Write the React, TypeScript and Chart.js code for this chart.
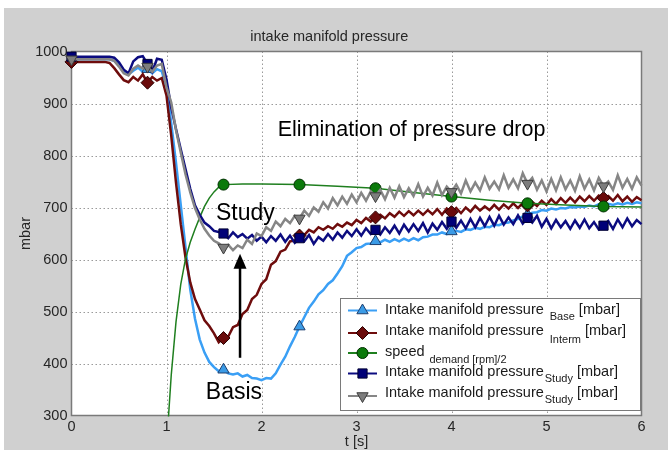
import React, { useEffect, useRef } from 'react';
import { Chart, registerables } from 'chart.js';

Chart.register(...registerables);

// ---------------- data ----------------
const times = [
  0, 0.05, 0.1, 0.15, 0.2, 0.25, 0.3, 0.35, 0.4, 0.45,
  0.5, 0.55, 0.6, 0.65, 0.7, 0.75, 0.8, 0.85, 0.9, 0.95,
  1, 1.05, 1.1, 1.15, 1.2, 1.25, 1.3, 1.35, 1.4, 1.45,
  1.5, 1.55, 1.6, 1.65, 1.7, 1.75, 1.8, 1.85, 1.9, 1.95,
  2, 2.05, 2.1, 2.15, 2.2, 2.25, 2.3, 2.35, 2.4, 2.45,
  2.5, 2.55, 2.6, 2.65, 2.7, 2.75, 2.8, 2.85, 2.9, 2.95,
  3, 3.05, 3.1, 3.15, 3.2, 3.25, 3.3, 3.35, 3.4, 3.45,
  3.5, 3.55, 3.6, 3.65, 3.7, 3.75, 3.8, 3.85, 3.9, 3.95,
  4, 4.05, 4.1, 4.15, 4.2, 4.25, 4.3, 4.35, 4.4, 4.45,
  4.5, 4.55, 4.6, 4.65, 4.7, 4.75, 4.8, 4.85, 4.9, 4.95,
  5, 5.05, 5.1, 5.15, 5.2, 5.25, 5.3, 5.35, 5.4, 5.45,
  5.5, 5.55, 5.6, 5.65, 5.7, 5.75, 5.8, 5.85, 5.9, 5.95,
  6,
];

const pressureBase = [
  985, 985, 985, 985, 985, 985, 985, 985, 985, 982,
  974, 962, 956, 963, 969, 961, 966, 958, 966, 962,
  930, 862, 786, 705, 624, 542, 486, 446, 421, 403,
  393, 385, 388, 381, 379, 381, 375, 378, 372, 371,
  368, 372, 371, 381, 398, 413, 433, 451, 471, 489,
  507, 519, 533, 541, 553, 560, 573, 587, 607, 614,
  622, 624, 630, 631, 635, 633, 638, 634, 639, 635,
  640, 636, 641, 637, 643, 644, 648, 648, 652, 649,
  654, 655, 653, 658, 657, 661, 659, 663, 662, 667,
  666, 670, 671, 675, 678, 683, 686, 690, 691, 695,
  694, 698, 696, 699, 698, 701, 700, 702, 701, 704,
  702, 706, 704, 707, 705, 708, 706, 709, 707, 710,
  708,
];

const pressureInterm = [
  980, 980, 980, 980, 980, 980, 980, 980, 978, 968,
  956, 945, 941, 951, 944, 956, 940, 951, 944, 949,
  915, 838, 748, 668, 604, 556, 524, 504, 483, 472,
  458, 441, 449, 452, 470, 474, 495, 503, 524, 532,
  553, 562, 590, 597, 615, 619, 635, 636, 646, 647,
  657, 652, 662, 657, 664, 659, 668, 663, 671, 666,
  676, 670, 680, 673, 681, 686, 679, 689, 682, 692,
  684, 693, 685, 694, 686, 695, 687, 697, 686, 698,
  691, 699, 689, 700, 692, 703, 694, 702, 695, 705,
  696, 706, 698, 708, 699, 709, 704, 711, 703, 713,
  705, 716, 707, 718, 709, 719, 710, 721, 712, 722,
  713, 723, 718, 722, 713, 724, 712, 721, 711, 720,
  714,
];

const speedTimes = [1, 1.05, 1.1, 1.15, 1.2, 1.25, 1.3, 1.35, 1.4, 1.45, 1.5, 1.55, 1.6, 1.8, 2, 2.4, 2.8, 3.2, 3.6, 4, 4.4, 4.8, 5.2, 5.6, 6];
const speedDemand = [240, 378, 480, 552, 601, 633, 658, 681, 702, 718, 730, 739, 744, 745, 745, 744, 741, 737, 729, 721, 714, 708, 705, 702, 701];

const pressureStudyA = [
  990, 990, 990, 990, 990, 990, 990, 990, 990, 988,
  979, 965, 958, 981, 989, 991, 976, 961, 986, 984,
  946, 892, 851, 812, 774, 736, 704, 686, 671, 664,
  655, 653, 650, 641, 652, 643, 649, 640, 647, 636,
  644, 633, 645, 636, 648, 634, 646, 632, 641, 635,
  647, 630, 643, 636, 649, 638, 652, 642, 655, 645,
  658, 646, 660, 649, 657, 648, 662, 651, 665, 650,
  667, 654, 668, 655, 670, 652, 669, 657, 672, 659,
  673, 661, 675, 660, 678, 662, 680, 664, 682, 665,
  684, 667, 681, 668, 685, 669, 680, 671, 684, 663,
  678, 660, 676, 662, 674, 659, 675, 661, 677, 660,
  672, 658, 665, 674, 659, 677, 662, 679, 664, 676,
  668,
];

const pressureStudyB = [
  985, 985, 985, 985, 985, 985, 985, 985, 985, 982,
  971, 958, 954, 967, 973, 967, 971, 961, 973, 976,
  931, 902, 849, 806, 764, 729, 699, 677, 659, 646,
  636, 631, 623, 628, 618, 627, 622, 638, 630, 650,
  645, 662, 655, 673, 664, 678, 670, 684, 679, 694,
  684, 700, 692, 710, 698, 718, 704, 721, 707, 725,
  710, 728, 713, 731, 722, 734, 716, 738, 719, 741,
  720, 737, 722, 745, 721, 738, 723, 748, 724, 740,
  730, 744, 727, 752, 731, 748, 733, 758, 736, 750,
  735, 762, 738, 754, 737, 766, 746, 757, 734, 752,
  731, 755, 733, 758, 735, 752, 732, 760, 736, 754,
  733, 757, 741, 750, 734, 762, 738, 755, 736, 758,
  742,
];

const markerTimes = [0, 0.8, 1.6, 2.4, 3.2, 4, 4.8, 5.6];
const xMin = 0, xMax = 6, xStep = 1;
const yMin = 300, yMax = 1000, yStep = 100;

const chartTitle = 'intake manifold pressure';
const xTitle = 't [s]';
const yTitle = 'mbar';

const legendMain = ['Intake manifold pressure', 'Intake manifold pressure', 'speed', 'Intake manifold pressure', 'Intake manifold pressure'];
const legendSub = ['Base', 'Interm', 'demand [rpm]/2', 'Study', 'Study'];
const legendTail = ['[mbar]', '[mbar]', '', '[mbar]', '[mbar]'];

const annotationMain = 'Elimination of pressure drop';
const annotationStudy = 'Study';
const annotationBasis = 'Basis';

// ---------------- styles ----------------
const FONT = '"Liberation Sans", Arial, Helvetica, sans-serif';
const TXT = '#262626';

type Sty = { line: string; fill: string; edge: string; shape: string; r: number; lw: number };
const styles: Sty[] = [
  { line: '#3a9ff5', fill: '#3b9be6', edge: '#1e3f6e', shape: 'triUp', r: 6.5, lw: 2.5 },
  { line: '#6e0c0c', fill: '#6a0b0b', edge: '#2a0000', shape: 'diamond', r: 6.5, lw: 2.5 },
  { line: '#1f7f1f', fill: '#0b7a0b', edge: '#003000', shape: 'circle', r: 5.5, lw: 1.5 },
  { line: '#0c0c80', fill: '#000078', edge: '#000033', shape: 'square', r: 6.5, lw: 2.5 },
  { line: '#868686', fill: '#7d7d7d', edge: '#3c3c3c', shape: 'triDown', r: 6.5, lw: 2.5 },
];

const chartStyle: Record<string, string> = {
  triUp: 'triangle', triDown: 'triangle', diamond: 'rectRot', circle: 'circle', square: 'rect',
};

function isMarker(x: number) {
  return markerTimes.some((m) => Math.abs(m - x) < 1e-6);
}

function drawShape(ctx: CanvasRenderingContext2D, shape: string, x: number, y: number, r: number, fill: string, edge: string) {
  ctx.beginPath();
  if (shape === 'triUp') {
    ctx.moveTo(x, y - r);
    ctx.lineTo(x + r * 0.866, y + r * 0.5);
    ctx.lineTo(x - r * 0.866, y + r * 0.5);
    ctx.closePath();
  } else if (shape === 'triDown') {
    ctx.moveTo(x, y + r);
    ctx.lineTo(x + r * 0.866, y - r * 0.5);
    ctx.lineTo(x - r * 0.866, y - r * 0.5);
    ctx.closePath();
  } else if (shape === 'diamond') {
    ctx.moveTo(x, y - r);
    ctx.lineTo(x + r, y);
    ctx.lineTo(x, y + r);
    ctx.lineTo(x - r, y);
    ctx.closePath();
  } else if (shape === 'circle') {
    ctx.arc(x, y, r, 0, Math.PI * 2);
  } else {
    const s = r * 0.7071;
    ctx.rect(x - s, y - s, 2 * s, 2 * s);
  }
  ctx.fillStyle = fill;
  ctx.fill();
  ctx.lineWidth = 1;
  ctx.strokeStyle = edge;
  ctx.stroke();
}

const decorPlugin = {
  id: 'decor',
  beforeDraw(chart: any) {
    const { ctx, width, height, chartArea: a } = chart;
    ctx.save();
    ctx.fillStyle = '#ffffff';
    ctx.fillRect(0, 0, width, height);
    ctx.fillStyle = '#d0d0d0';
    ctx.fillRect(4, 8, width - 8, height - 12);
    ctx.fillStyle = '#ffffff';
    ctx.fillRect(a.left, a.top, a.right - a.left, a.bottom - a.top);
    ctx.restore();
  },
  beforeDatasetsDraw(chart: any) {
    const { ctx, chartArea: a, scales } = chart;
    ctx.save();
    ctx.strokeStyle = '#9a9a9a';
    ctx.lineWidth = 1;
    ctx.setLineDash([1.5, 2.5]);
    for (const t of scales.x.ticks) {
      const px = Math.round(scales.x.getPixelForValue(t.value)) + 0.5;
      if (px <= a.left + 1 || px >= a.right - 1) continue;
      ctx.beginPath();
      ctx.moveTo(px, a.top);
      ctx.lineTo(px, a.bottom);
      ctx.stroke();
    }
    for (const t of scales.y.ticks) {
      const py = Math.round(scales.y.getPixelForValue(t.value)) + 0.5;
      if (py <= a.top + 1 || py >= a.bottom - 1) continue;
      ctx.beginPath();
      ctx.moveTo(a.left, py);
      ctx.lineTo(a.right, py);
      ctx.stroke();
    }
    ctx.setLineDash([]);
    ctx.strokeStyle = '#7a7a7a';
    ctx.lineWidth = 1.5;
    ctx.strokeRect(a.left, a.top, a.right - a.left, a.bottom - a.top);
    ctx.restore();
  },
  afterDatasetsDraw(chart: any) {
    const { ctx, scales } = chart;
    const X = (v: number) => scales.x.getPixelForValue(v);
    const Y = (v: number) => scales.y.getPixelForValue(v);
    ctx.save();
    // annotations
    ctx.fillStyle = '#000000';
    ctx.textAlign = 'center';
    ctx.textBaseline = 'middle';
    ctx.font = `21.5px ${FONT}`;
    ctx.fillText(annotationMain, X(3.58), Y(849));
    ctx.font = `23px ${FONT}`;
    ctx.fillText(annotationStudy, X(1.83), Y(689));
    ctx.fillText(annotationBasis, X(1.71), Y(343));
    // arrow
    const ax = X(1.774);
    const tail = Y(411);
    const tip = Y(611);
    ctx.strokeStyle = '#000000';
    ctx.lineWidth = 2.5;
    ctx.beginPath();
    ctx.moveTo(ax, tail);
    ctx.lineTo(ax, tip + 12);
    ctx.stroke();
    ctx.beginPath();
    ctx.moveTo(ax, tip);
    ctx.lineTo(ax + 6.5, tip + 15);
    ctx.lineTo(ax - 6.5, tip + 15);
    ctx.closePath();
    ctx.fill();

    // legend
    const bx = 340, by = 298, bw = 300, bh = 112;
    ctx.fillStyle = '#ffffff';
    ctx.fillRect(bx, by, bw, bh);
    ctx.strokeStyle = '#7a7a7a';
    ctx.lineWidth = 1;
    ctx.strokeRect(bx + 0.5, by + 0.5, bw, bh);
    const rowText = [309.5, 330.5, 351.5, 371.5, 392.5];
    const rowMark = [310.5, 333, 353, 373.5, 396];
    const subDy = [7, 9, 8.5, 7.5, 7.5];
    const subGap = [6, 6, 5, 1, 1];
    for (let i = 0; i < styles.length; i++) {
      const s = styles[i];
      ctx.strokeStyle = s.line;
      ctx.lineWidth = 2;
      ctx.beginPath();
      ctx.moveTo(348, rowMark[i]);
      ctx.lineTo(377, rowMark[i]);
      ctx.stroke();
      drawShape(ctx, s.shape, 362.5, rowMark[i], s.r, s.fill, s.edge);
      ctx.fillStyle = '#1a1a1a';
      ctx.textAlign = 'left';
      ctx.textBaseline = 'middle';
      ctx.font = `14.5px ${FONT}`;
      let tx = 385;
      ctx.fillText(legendMain[i], tx, rowText[i]);
      tx += ctx.measureText(legendMain[i]).width + subGap[i];
      ctx.font = `11px ${FONT}`;
      ctx.fillText(legendSub[i], tx, rowText[i] + subDy[i]);
      tx += ctx.measureText(legendSub[i]).width + 4;
      if (legendTail[i]) {
        ctx.font = `14.5px ${FONT}`;
        ctx.fillText(legendTail[i], tx, rowText[i]);
      }
    }
    ctx.restore();
  },
};

function series(ts: number[], vs: number[]) {
  return ts.map((t, i) => ({ x: t, y: vs[i] }));
}

export default function App() {
  const ref = useRef<HTMLCanvasElement | null>(null);
  useEffect(() => {
    if (!ref.current) return;
    const values = [pressureBase, pressureInterm, speedDemand, pressureStudyA, pressureStudyB];
    const datasets = values.map((vals, i) => {
      const s = styles[i];
      const isSpeed = i === 2;
      return {
        label: legendMain[i] + ' ' + legendSub[i],
        data: series(isSpeed ? speedTimes : times, vals),
        borderColor: s.line,
        borderWidth: s.lw,
        backgroundColor: s.fill,
        pointBackgroundColor: s.fill,
        pointBorderColor: s.edge,
        pointBorderWidth: 1,
        pointStyle: chartStyle[s.shape],
        pointRotation: s.shape === 'triDown' ? 180 : 0,
        pointRadius: (c: any) => (c.raw && isMarker(c.raw.x) ? s.r : 0),
        pointHoverRadius: 0,
        tension: 0,
        fill: false,
        order: 5 - i,
        clip: isSpeed ? 1 : { left: 10, top: 10, right: 10, bottom: 1 },
      };
    });
    const chart = new Chart(ref.current, {
      type: 'line',
      data: { datasets },
      options: {
        responsive: false,
        animation: false,
        events: [],
        layout: { padding: { left: 17, right: 30.5, top: 0, bottom: 0 } },
        plugins: {
          legend: { display: false },
          tooltip: { enabled: false },
          title: {
            display: true,
            text: chartTitle,
            color: TXT,
            font: { family: FONT, size: 14.5, weight: 'normal' },
            padding: { top: 28.3, bottom: 5.8 },
          },
        },
        scales: {
          x: {
            type: 'linear',
            min: xMin,
            max: xMax,
            ticks: { stepSize: xStep, color: TXT, font: { family: FONT, size: 14.5 }, padding: 3, maxRotation: 0, callback: (v: any) => String(v) },
            grid: { display: false, drawTicks: false },
            border: { display: false },
            title: { display: true, text: xTitle, color: TXT, font: { family: FONT, size: 14.5 }, padding: { top: 0, bottom: 3.5 } },
            afterFit: (sc: any) => { sc.height = 38.5; },
          },
          y: {
            type: 'linear',
            min: yMin,
            max: yMax,
            ticks: { stepSize: yStep, color: TXT, font: { family: FONT, size: 14.5 }, padding: 4, callback: (v: any) => String(v) },
            grid: { display: false, drawTicks: false },
            border: { display: false },
            title: { display: true, text: yTitle, color: TXT, font: { family: FONT, size: 14.5 }, padding: { top: 0, bottom: 0 } },
            afterFit: (sc: any) => { sc.width = 54.5; },
          },
        },
      },
      plugins: [decorPlugin],
    } as any);
    return () => chart.destroy();
  }, []);
  return (
    <div style={{ position: 'fixed', left: 0, top: 0, width: 672, height: 454, background: '#fff' }}>
      <canvas ref={ref} width={672} height={454} style={{ display: 'block', width: 672, height: 454 }} />
    </div>
  );
}
